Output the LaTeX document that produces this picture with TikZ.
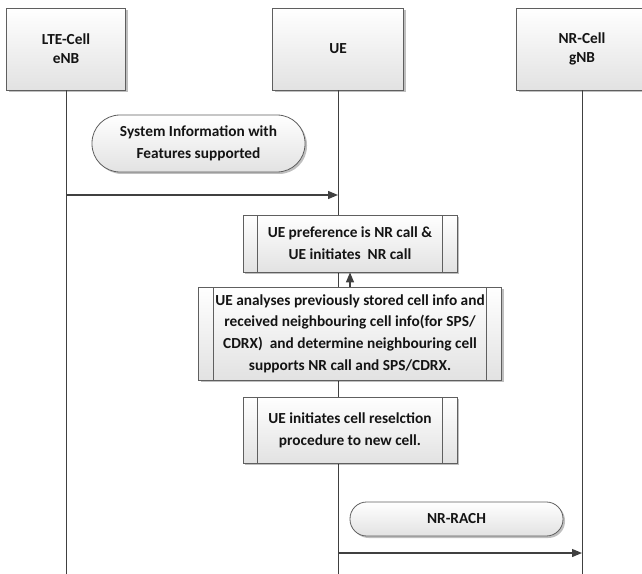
\documentclass[tikz,border=0pt]{standalone}
\usepackage{fontspec}
\setmainfont{Carlito}
\usetikzlibrary{arrows.meta,shadows}
\definecolor{lineGray}{RGB}{64,64,64}
\definecolor{boxEdge}{RGB}{95,95,95}
\definecolor{boxBottom}{RGB}{226,226,226}
\definecolor{textBlack}{RGB}{20,20,20}

\begin{document}
\begin{tikzpicture}[x=0.75pt,y=-0.75pt,
    every node/.style={font=\bfseries\fontsize{11.5}{16.3}\selectfont, text=textBlack, align=center, inner sep=0pt},
    boxfill/.style={draw=boxEdge, line width=0.6pt, top color=white, bottom color=boxBottom,
      drop shadow={shadow xshift=1.5pt, shadow yshift=-1.5pt, fill=black, opacity=.25}},
    entity/.style={boxfill, minimum height=61.5pt, font=\bfseries\fontsize{11.5}{14.3}\selectfont},
    msgbox/.style={boxfill, minimum width=159.75pt},
    procbox/.style={boxfill, path picture={
        \draw[boxEdge, line width=0.6pt]
          ([xshift=11pt]path picture bounding box.north west) -- ([xshift=11pt]path picture bounding box.south west)
          ([xshift=-11pt]path picture bounding box.north east) -- ([xshift=-11pt]path picture bounding box.south east);}},
    life/.style={lineGray, line width=0.75pt},
    msg/.style={lineGray, line width=0.9pt, -{Triangle[length=7.5pt,width=6pt]}}]
  \useasboundingbox (0,0) rectangle (642,574);

  % lifelines head
  \node[entity, minimum width=89.25pt] (lte) at (66,49) {LTE-Cell\\eNB};
  \node[entity, minimum width=98.25pt] (ue) at (338,49) {UE};
  \node[entity, minimum width=98.25pt] (nr) at (582,49) {NR-Cell\\gNB};

  \coordinate (bottom) at (0,574);
  \coordinate (y1) at (0,195);
  \coordinate (y2) at (0,553);
  \draw[life] (lte.south) -- (lte.south |- bottom);
  \draw[life] (ue.south) -- (ue.south |- bottom);
  \draw[life] (nr.south) -- (nr.south |- bottom);

  % messages and UE steps
  \node[msgbox, minimum height=42.75pt, rounded corners=21pt] (sysinfo) at (198.5,143.5)
    {System Information with\\Features supported};
  \draw[msg] (lte.south |- y1) -- (ue.south |- y1);

  \node[procbox, minimum width=160.5pt, minimum height=42.75pt] (pref) at (350,243.5)
    {UE preference is NR call \&\\UE initiates\ \ NR call};
  \node[procbox, minimum width=227.25pt, minimum height=69.75pt] (analyse) at (350,333.5)
    {UE analyses previously stored cell info and\\received neighbouring cell info(for SPS/\\CDRX)\ \ and determine neighbouring cell\\supports NR call and SPS/CDRX.};
  \draw[msg] (analyse.north) -- (pref.south);
  \node[procbox, minimum width=160.5pt, minimum height=49.5pt] (resel) at (350,430)
    {UE initiates cell reselction\\procedure to new cell.};

  \node[msgbox, minimum height=25.5pt, rounded corners=12.5pt] (rach) at (456.5,519) {NR-RACH};
  \draw[msg] (ue.south |- y2) -- (nr.south |- y2);
\end{tikzpicture}
\end{document}
